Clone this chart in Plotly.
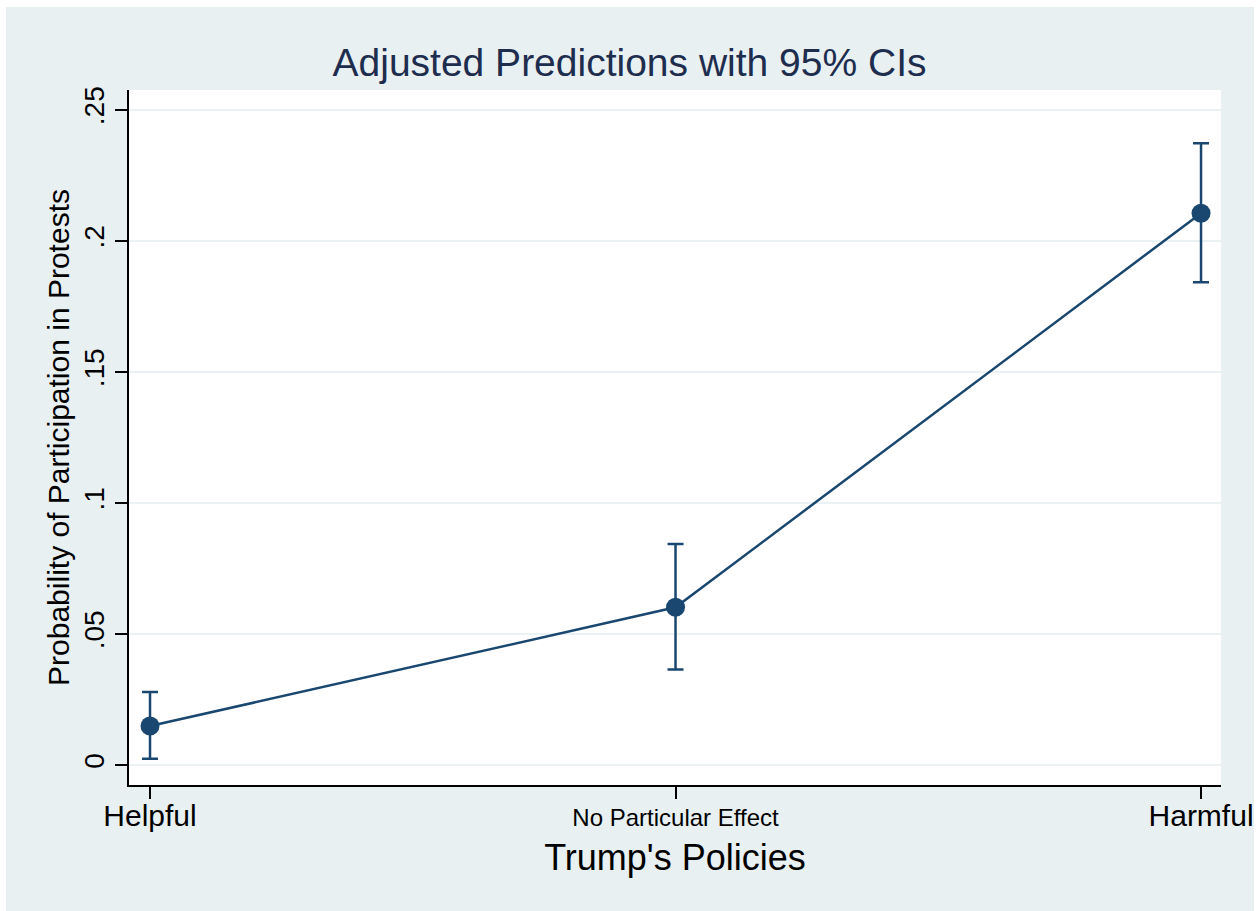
import plotly.graph_objects as go

# Adjusted predictions (margins) by view of Trump's policies
categories = ["Helpful", "No Particular Effect", "Harmful"]
cat_pos = [1, 2, 3]
pred = [0.0149, 0.0602, 0.2106]
ci_low = [0.0024, 0.0365, 0.1842]
ci_high = [0.0279, 0.0844, 0.2373]

y_ticks = [0, 0.05, 0.10, 0.15, 0.20, 0.25]
y_tick_labels = ["0", ".05", ".1", ".15", ".2", ".25"]

NAVY = "#1a476f"
BG = "#e8f0f2"
FONT = "Liberation Sans, Arial, Helvetica, sans-serif"

err_plus = [h - p for h, p in zip(ci_high, pred)]
err_minus = [p - l for p, l in zip(pred, ci_low)]

tick_text = [
    categories[0],
    '<span style="font-size:24px">' + categories[1] + "</span>",
    categories[2],
]

fig = go.Figure()
fig.add_trace(go.Scatter(
    x=cat_pos,
    y=pred,
    mode="lines+markers",
    line=dict(color=NAVY, width=2.5),
    marker=dict(color=NAVY, size=19),
    error_y=dict(
        type="data",
        symmetric=False,
        array=err_plus,
        arrayminus=err_minus,
        color=NAVY,
        thickness=2.5,
        width=8,
    ),
    showlegend=False,
))

# thin white border on the top, left and right of the graph region
for x0, x1, y0, y1 in [(-0.3, 1.3, 1.11942, 1.3),
                       (-0.3, -0.11264, -0.3, 1.3),
                       (1.03022, 1.3, -0.3, 1.3)]:
    fig.add_shape(type="rect", xref="paper", yref="paper",
                  x0=x0, x1=x1, y0=y0, y1=y1,
                  fillcolor="white", line=dict(width=0), layer="below")

fig.update_layout(
    width=1259,
    height=911,
    margin=dict(l=129, r=38, t=90, b=126, autoexpand=False),
    paper_bgcolor=BG,
    plot_bgcolor="white",
    font=dict(family=FONT, color="black"),
    title=dict(
        text="Adjusted Predictions with 95% CIs",
        x=0.5, xref="container", xanchor="center",
        y=1 - 62 / 911, yref="container", yanchor="middle",
        font=dict(family=FONT, size=39, color="#1e2d4e"),
    ),
    xaxis=dict(
        range=[0.96, 3.038],
        automargin=True,
        tickmode="array",
        tickvals=cat_pos,
        ticktext=tick_text,
        tickfont=dict(size=30, color="black"),
        ticks="outside",
        ticklen=12,
        tickwidth=1.5,
        tickcolor="black",
        ticklabelstandoff=-9,
        showline=True,
        linecolor="black",
        linewidth=1.5,
        showgrid=False,
        zeroline=False,
        title=dict(text="Trump's Policies", font=dict(size=36, color="black"), standoff=14),
    ),
    yaxis=dict(
        range=[-0.0076, 0.2576],
        automargin=True,
        tickmode="array",
        tickvals=y_ticks,
        ticktext=y_tick_labels,
        tickangle=-90,
        tickfont=dict(size=28, color="black"),
        ticks="outside",
        ticklen=12,
        tickwidth=1.5,
        tickcolor="black",
        showline=True,
        linecolor="black",
        linewidth=1.5,
        showgrid=True,
        gridcolor="#eaf2f3",
        gridwidth=1.5,
        zeroline=False,
        title=dict(text="Probability of Participation in Protests",
                   font=dict(size=30, color="black"), standoff=1),
    ),
)

fig.write_html("out.html")
